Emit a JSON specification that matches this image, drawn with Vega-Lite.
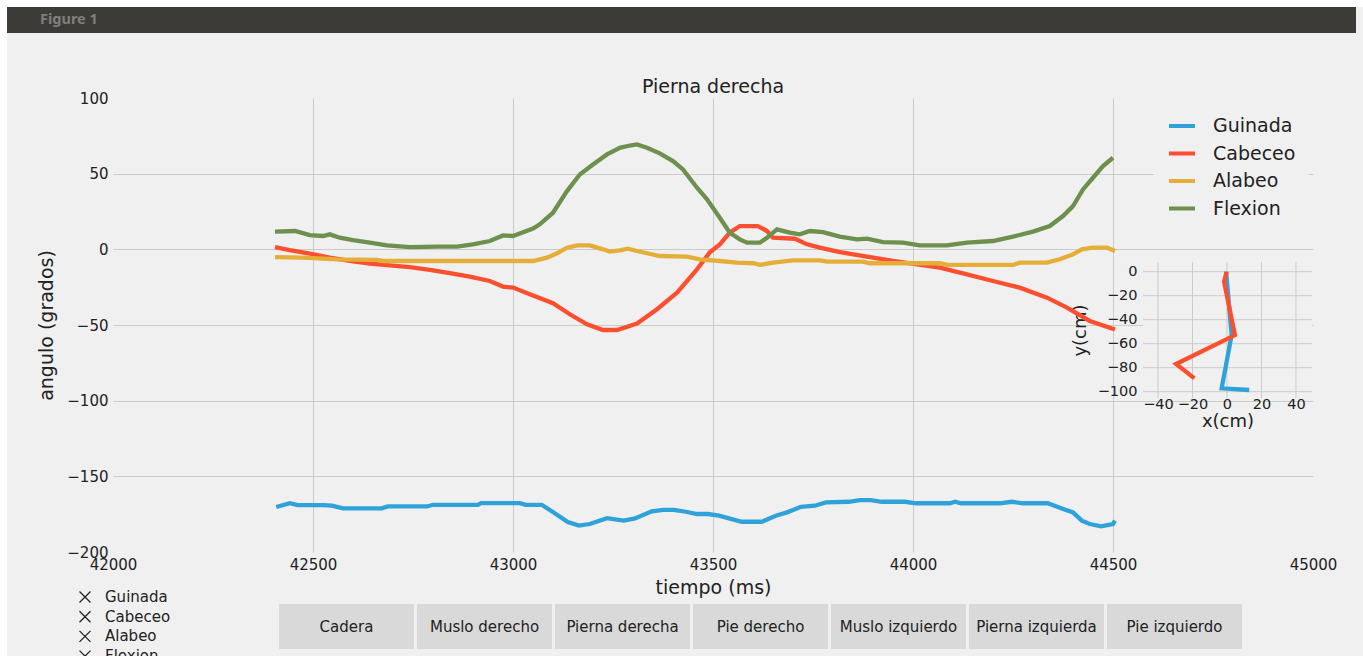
{
  "$schema": "https://vega.github.io/schema/vega-lite/v6.json",
  "width": 1200,
  "height": 454,
  "autosize": {"type": "none"},
  "padding": {"left": 113, "top": 98, "right": 50, "bottom": 104},
  "background": "#f0f0f0",
  "config": {"font": "DejaVu Sans", "view": {"stroke": null}},
  "title": {"text": "Pierna derecha", "fontSize": 19, "fontWeight": "normal", "color": "#222222", "anchor": "middle", "frame": "group", "offset": 0, "baseline": "middle", "dy": 106},
  "datasets": {
    "ventana": [{"ventana": "Figure 1"}],
    "panel": [{"panel": "inset"}],
    "inset_x": [{"tx": -40}, {"tx": -20}, {"tx": 0}, {"tx": 20}, {"tx": 40}],
    "inset_y": [{"ty": 0}, {"ty": -20}, {"ty": -40}, {"ty": -60}, {"ty": -80}, {"ty": -100}],
    "botones": [{"boton": "Cadera"}, {"boton": "Muslo derecho"}, {"boton": "Pierna derecha"}, {"boton": "Pie derecho"}, {"boton": "Muslo izquierdo"}, {"boton": "Pierna izquierda"}, {"boton": "Pie izquierdo"}],
    "marcadores": [{"marcador": "Guinada"}, {"marcador": "Cabeceo"}, {"marcador": "Alabeo"}, {"marcador": "Flexion"}],
    "pierna": [
      {"serie": "Guinada", "orden": 0, "x": -0.5, "y": 0},
      {"serie": "Guinada", "orden": 1, "x": 2.7, "y": -52.8},
      {"serie": "Guinada", "orden": 2, "x": -3.1, "y": -97.2},
      {"serie": "Guinada", "orden": 3, "x": 12.9, "y": -98.6},
      {"serie": "Cabeceo", "orden": 0, "x": -0.2, "y": 0},
      {"serie": "Cabeceo", "orden": 1, "x": -1.7, "y": -8.3},
      {"serie": "Cabeceo", "orden": 2, "x": 4.6, "y": -52.8},
      {"serie": "Cabeceo", "orden": 3, "x": -29.5, "y": -76.9},
      {"serie": "Cabeceo", "orden": 4, "x": -18.9, "y": -88.9}
    ],
    "angulos": [
      {"serie": "Guinada", "t": 42408, "v": -170.3},
      {"serie": "Guinada", "t": 42442, "v": -167.7},
      {"serie": "Guinada", "t": 42462, "v": -169.0},
      {"serie": "Guinada", "t": 42525, "v": -169.0},
      {"serie": "Guinada", "t": 42547, "v": -169.4},
      {"serie": "Guinada", "t": 42575, "v": -171.2},
      {"serie": "Guinada", "t": 42672, "v": -171.2},
      {"serie": "Guinada", "t": 42687, "v": -169.9},
      {"serie": "Guinada", "t": 42785, "v": -169.9},
      {"serie": "Guinada", "t": 42800, "v": -168.8},
      {"serie": "Guinada", "t": 42912, "v": -168.8},
      {"serie": "Guinada", "t": 42920, "v": -167.7},
      {"serie": "Guinada", "t": 43017, "v": -167.7},
      {"serie": "Guinada", "t": 43032, "v": -168.8},
      {"serie": "Guinada", "t": 43072, "v": -168.8},
      {"serie": "Guinada", "t": 43095, "v": -172.7},
      {"serie": "Guinada", "t": 43137, "v": -180.2},
      {"serie": "Guinada", "t": 43165, "v": -182.6},
      {"serie": "Guinada", "t": 43192, "v": -181.5},
      {"serie": "Guinada", "t": 43235, "v": -177.6},
      {"serie": "Guinada", "t": 43277, "v": -179.3},
      {"serie": "Guinada", "t": 43305, "v": -177.8},
      {"serie": "Guinada", "t": 43347, "v": -173.1},
      {"serie": "Guinada", "t": 43375, "v": -172.1},
      {"serie": "Guinada", "t": 43402, "v": -172.1},
      {"serie": "Guinada", "t": 43432, "v": -173.4},
      {"serie": "Guinada", "t": 43460, "v": -174.9},
      {"serie": "Guinada", "t": 43487, "v": -174.9},
      {"serie": "Guinada", "t": 43515, "v": -176.0},
      {"serie": "Guinada", "t": 43572, "v": -180.0},
      {"serie": "Guinada", "t": 43622, "v": -180.0},
      {"serie": "Guinada", "t": 43657, "v": -176.0},
      {"serie": "Guinada", "t": 43685, "v": -173.8},
      {"serie": "Guinada", "t": 43720, "v": -170.1},
      {"serie": "Guinada", "t": 43755, "v": -169.4},
      {"serie": "Guinada", "t": 43782, "v": -167.2},
      {"serie": "Guinada", "t": 43840, "v": -166.8},
      {"serie": "Guinada", "t": 43867, "v": -165.7},
      {"serie": "Guinada", "t": 43895, "v": -165.7},
      {"serie": "Guinada", "t": 43922, "v": -166.8},
      {"serie": "Guinada", "t": 43980, "v": -166.8},
      {"serie": "Guinada", "t": 44007, "v": -167.8},
      {"serie": "Guinada", "t": 44092, "v": -167.8},
      {"serie": "Guinada", "t": 44105, "v": -166.8},
      {"serie": "Guinada", "t": 44120, "v": -167.8},
      {"serie": "Guinada", "t": 44217, "v": -167.8},
      {"serie": "Guinada", "t": 44247, "v": -166.8},
      {"serie": "Guinada", "t": 44275, "v": -167.8},
      {"serie": "Guinada", "t": 44337, "v": -167.8},
      {"serie": "Guinada", "t": 44372, "v": -171.2},
      {"serie": "Guinada", "t": 44400, "v": -173.8},
      {"serie": "Guinada", "t": 44422, "v": -179.3},
      {"serie": "Guinada", "t": 44442, "v": -181.5},
      {"serie": "Guinada", "t": 44470, "v": -183.0},
      {"serie": "Guinada", "t": 44500, "v": -181.5},
      {"serie": "Guinada", "t": 44505, "v": -179.3},
      {"serie": "Cabeceo", "t": 42405, "v": 1.5},
      {"serie": "Cabeceo", "t": 42442, "v": -0.5},
      {"serie": "Cabeceo", "t": 42492, "v": -2.9},
      {"serie": "Cabeceo", "t": 42542, "v": -5.5},
      {"serie": "Cabeceo", "t": 42592, "v": -7.7},
      {"serie": "Cabeceo", "t": 42642, "v": -9.5},
      {"serie": "Cabeceo", "t": 42692, "v": -10.6},
      {"serie": "Cabeceo", "t": 42742, "v": -11.7},
      {"serie": "Cabeceo", "t": 42792, "v": -13.6},
      {"serie": "Cabeceo", "t": 42842, "v": -15.8},
      {"serie": "Cabeceo", "t": 42892, "v": -18.0},
      {"serie": "Cabeceo", "t": 42942, "v": -20.9},
      {"serie": "Cabeceo", "t": 42975, "v": -24.6},
      {"serie": "Cabeceo", "t": 43000, "v": -25.3},
      {"serie": "Cabeceo", "t": 43042, "v": -29.7},
      {"serie": "Cabeceo", "t": 43100, "v": -35.6},
      {"serie": "Cabeceo", "t": 43142, "v": -42.9},
      {"serie": "Cabeceo", "t": 43185, "v": -49.5},
      {"serie": "Cabeceo", "t": 43225, "v": -53.3},
      {"serie": "Cabeceo", "t": 43260, "v": -53.3},
      {"serie": "Cabeceo", "t": 43310, "v": -49.0},
      {"serie": "Cabeceo", "t": 43360, "v": -39.6},
      {"serie": "Cabeceo", "t": 43410, "v": -28.6},
      {"serie": "Cabeceo", "t": 43460, "v": -13.2},
      {"serie": "Cabeceo", "t": 43492, "v": -2.0},
      {"serie": "Cabeceo", "t": 43517, "v": 3.3},
      {"serie": "Cabeceo", "t": 43542, "v": 11.0},
      {"serie": "Cabeceo", "t": 43567, "v": 15.4},
      {"serie": "Cabeceo", "t": 43612, "v": 15.4},
      {"serie": "Cabeceo", "t": 43635, "v": 12.1},
      {"serie": "Cabeceo", "t": 43650, "v": 7.7},
      {"serie": "Cabeceo", "t": 43705, "v": 7.0},
      {"serie": "Cabeceo", "t": 43735, "v": 3.3},
      {"serie": "Cabeceo", "t": 43767, "v": 1.1},
      {"serie": "Cabeceo", "t": 43817, "v": -1.8},
      {"serie": "Cabeceo", "t": 43885, "v": -4.8},
      {"serie": "Cabeceo", "t": 43950, "v": -7.7},
      {"serie": "Cabeceo", "t": 44010, "v": -9.9},
      {"serie": "Cabeceo", "t": 44067, "v": -12.1},
      {"serie": "Cabeceo", "t": 44135, "v": -16.5},
      {"serie": "Cabeceo", "t": 44200, "v": -20.9},
      {"serie": "Cabeceo", "t": 44267, "v": -25.3},
      {"serie": "Cabeceo", "t": 44335, "v": -31.9},
      {"serie": "Cabeceo", "t": 44385, "v": -38.5},
      {"serie": "Cabeceo", "t": 44442, "v": -47.3},
      {"serie": "Cabeceo", "t": 44505, "v": -53.0},
      {"serie": "Alabeo", "t": 42405, "v": -5.1},
      {"serie": "Alabeo", "t": 42475, "v": -5.5},
      {"serie": "Alabeo", "t": 42560, "v": -6.6},
      {"serie": "Alabeo", "t": 42660, "v": -7.0},
      {"serie": "Alabeo", "t": 42675, "v": -7.7},
      {"serie": "Alabeo", "t": 43050, "v": -7.7},
      {"serie": "Alabeo", "t": 43085, "v": -5.5},
      {"serie": "Alabeo", "t": 43110, "v": -2.6},
      {"serie": "Alabeo", "t": 43135, "v": 1.1},
      {"serie": "Alabeo", "t": 43160, "v": 2.6},
      {"serie": "Alabeo", "t": 43192, "v": 2.6},
      {"serie": "Alabeo", "t": 43225, "v": 0.0},
      {"serie": "Alabeo", "t": 43242, "v": -1.5},
      {"serie": "Alabeo", "t": 43267, "v": -0.7},
      {"serie": "Alabeo", "t": 43287, "v": 0.4},
      {"serie": "Alabeo", "t": 43310, "v": -1.1},
      {"serie": "Alabeo", "t": 43335, "v": -2.6},
      {"serie": "Alabeo", "t": 43367, "v": -4.4},
      {"serie": "Alabeo", "t": 43435, "v": -4.8},
      {"serie": "Alabeo", "t": 43467, "v": -6.6},
      {"serie": "Alabeo", "t": 43517, "v": -7.7},
      {"serie": "Alabeo", "t": 43560, "v": -8.8},
      {"serie": "Alabeo", "t": 43600, "v": -9.2},
      {"serie": "Alabeo", "t": 43617, "v": -10.3},
      {"serie": "Alabeo", "t": 43650, "v": -8.8},
      {"serie": "Alabeo", "t": 43700, "v": -7.3},
      {"serie": "Alabeo", "t": 43767, "v": -7.3},
      {"serie": "Alabeo", "t": 43785, "v": -8.1},
      {"serie": "Alabeo", "t": 43875, "v": -8.1},
      {"serie": "Alabeo", "t": 43892, "v": -9.2},
      {"serie": "Alabeo", "t": 44067, "v": -9.2},
      {"serie": "Alabeo", "t": 44085, "v": -10.3},
      {"serie": "Alabeo", "t": 44250, "v": -10.3},
      {"serie": "Alabeo", "t": 44267, "v": -8.8},
      {"serie": "Alabeo", "t": 44335, "v": -8.8},
      {"serie": "Alabeo", "t": 44367, "v": -6.6},
      {"serie": "Alabeo", "t": 44400, "v": -3.3},
      {"serie": "Alabeo", "t": 44422, "v": 0.0},
      {"serie": "Alabeo", "t": 44450, "v": 1.1},
      {"serie": "Alabeo", "t": 44485, "v": 1.1},
      {"serie": "Alabeo", "t": 44505, "v": -1.1},
      {"serie": "Flexion", "t": 42405, "v": 11.7},
      {"serie": "Flexion", "t": 42455, "v": 12.1},
      {"serie": "Flexion", "t": 42492, "v": 9.4},
      {"serie": "Flexion", "t": 42525, "v": 8.8},
      {"serie": "Flexion", "t": 42542, "v": 9.9},
      {"serie": "Flexion", "t": 42567, "v": 7.7},
      {"serie": "Flexion", "t": 42600, "v": 6.1},
      {"serie": "Flexion", "t": 42642, "v": 4.4},
      {"serie": "Flexion", "t": 42685, "v": 2.6},
      {"serie": "Flexion", "t": 42742, "v": 1.5},
      {"serie": "Flexion", "t": 42810, "v": 1.8},
      {"serie": "Flexion", "t": 42860, "v": 1.8},
      {"serie": "Flexion", "t": 42900, "v": 3.3},
      {"serie": "Flexion", "t": 42942, "v": 5.5},
      {"serie": "Flexion", "t": 42975, "v": 9.2},
      {"serie": "Flexion", "t": 43000, "v": 8.8},
      {"serie": "Flexion", "t": 43050, "v": 13.7},
      {"serie": "Flexion", "t": 43067, "v": 16.5},
      {"serie": "Flexion", "t": 43100, "v": 24.2},
      {"serie": "Flexion", "t": 43135, "v": 38.5},
      {"serie": "Flexion", "t": 43167, "v": 49.5},
      {"serie": "Flexion", "t": 43200, "v": 56.1},
      {"serie": "Flexion", "t": 43235, "v": 62.7},
      {"serie": "Flexion", "t": 43267, "v": 67.1},
      {"serie": "Flexion", "t": 43292, "v": 68.6},
      {"serie": "Flexion", "t": 43310, "v": 69.3},
      {"serie": "Flexion", "t": 43335, "v": 67.1},
      {"serie": "Flexion", "t": 43367, "v": 63.4},
      {"serie": "Flexion", "t": 43400, "v": 58.3},
      {"serie": "Flexion", "t": 43425, "v": 52.8},
      {"serie": "Flexion", "t": 43460, "v": 40.7},
      {"serie": "Flexion", "t": 43485, "v": 33.0},
      {"serie": "Flexion", "t": 43517, "v": 20.9},
      {"serie": "Flexion", "t": 43542, "v": 11.0},
      {"serie": "Flexion", "t": 43567, "v": 6.6},
      {"serie": "Flexion", "t": 43585, "v": 4.4},
      {"serie": "Flexion", "t": 43617, "v": 4.4},
      {"serie": "Flexion", "t": 43635, "v": 7.7},
      {"serie": "Flexion", "t": 43660, "v": 13.2},
      {"serie": "Flexion", "t": 43692, "v": 11.0},
      {"serie": "Flexion", "t": 43717, "v": 9.9},
      {"serie": "Flexion", "t": 43742, "v": 12.1},
      {"serie": "Flexion", "t": 43775, "v": 11.4},
      {"serie": "Flexion", "t": 43817, "v": 8.4},
      {"serie": "Flexion", "t": 43860, "v": 6.6},
      {"serie": "Flexion", "t": 43885, "v": 7.1},
      {"serie": "Flexion", "t": 43925, "v": 4.8},
      {"serie": "Flexion", "t": 43975, "v": 4.4},
      {"serie": "Flexion", "t": 44017, "v": 2.6},
      {"serie": "Flexion", "t": 44085, "v": 2.6},
      {"serie": "Flexion", "t": 44135, "v": 4.4},
      {"serie": "Flexion", "t": 44200, "v": 5.5},
      {"serie": "Flexion", "t": 44250, "v": 8.4},
      {"serie": "Flexion", "t": 44300, "v": 11.7},
      {"serie": "Flexion", "t": 44342, "v": 15.4},
      {"serie": "Flexion", "t": 44375, "v": 22.0},
      {"serie": "Flexion", "t": 44400, "v": 28.6},
      {"serie": "Flexion", "t": 44425, "v": 39.6},
      {"serie": "Flexion", "t": 44450, "v": 47.3},
      {"serie": "Flexion", "t": 44475, "v": 55.0},
      {"serie": "Flexion", "t": 44500, "v": 60.5}
    ]
  },
  "resolve": {"scale": {"x": "independent", "y": "independent"}, "axis": {"x": "independent", "y": "independent"}},
  "layer": [
    {
      "data": {"name": "ventana"},
      "mark": {"type": "rect", "color": "#ffffff"},
      "encoding": {
        "x": {"field": "ventana", "type": "nominal", "scale": {"type": "band", "domain": ["Figure 1"], "range": [-113, 1250], "paddingInner": 0, "paddingOuter": 0}, "axis": null},
        "y": {"field": "ventana", "type": "nominal", "scale": {"type": "band", "domain": ["Figure 1"], "range": [-98, -91], "paddingInner": 0, "paddingOuter": 0}, "axis": null}
      }
    },
    {
      "data": {"name": "ventana"},
      "mark": {"type": "rect", "color": "#ffffff"},
      "encoding": {
        "x": {"field": "ventana", "type": "nominal", "scale": {"type": "band", "domain": ["Figure 1"], "range": [-113, -106], "paddingInner": 0, "paddingOuter": 0}, "axis": null},
        "y": {"field": "ventana", "type": "nominal", "scale": {"type": "band", "domain": ["Figure 1"], "range": [-98, 558], "paddingInner": 0, "paddingOuter": 0}, "axis": null}
      }
    },
    {
      "data": {"name": "ventana"},
      "mark": {"type": "rect", "color": "#3c3b37"},
      "encoding": {
        "x": {"field": "ventana", "type": "nominal", "scale": {"type": "band", "domain": ["Figure 1"], "range": [-106, 1243], "paddingInner": 0, "paddingOuter": 0}, "axis": null},
        "y": {"field": "ventana", "type": "nominal", "scale": {"type": "band", "domain": ["Figure 1"], "range": [-91, -65], "paddingInner": 0, "paddingOuter": 0}, "axis": null}
      }
    },
    {
      "data": {"name": "ventana"},
      "mark": {"type": "text", "align": "left", "baseline": "middle", "dx": 33, "fontSize": 14.5, "fontWeight": "bold", "font": "Noto Sans", "color": "#7f7f7a"},
      "encoding": {
        "x": {"field": "ventana", "type": "nominal", "bandPosition": 0, "scale": {"type": "band", "domain": ["Figure 1"], "range": [-106, 1243], "paddingInner": 0, "paddingOuter": 0}, "axis": null},
        "y": {"field": "ventana", "type": "nominal", "scale": {"type": "band", "domain": ["Figure 1"], "range": [-91, -65], "paddingInner": 0, "paddingOuter": 0}, "axis": null},
        "text": {"field": "ventana"}
      }
    },
    {
      "data": {"name": "angulos"},
      "mark": {"type": "line", "strokeWidth": 4.3},
      "encoding": {
        "x": {"field": "t", "type": "quantitative", "scale": {"domain": [42000, 45000], "nice": false, "zero": false},
          "axis": {"title": "tiempo (ms)", "values": [42000, 42500, 43000, 43500, 44000, 44500, 45000], "format": "d", "labelFlush": false, "grid": true, "gridColor": "#cbcbcb", "gridOpacity": {"condition": {"test": "datum.value === 42000 || datum.value === 45000", "value": 0}, "value": 1}, "domain": false, "ticks": false, "labelPadding": 5, "labelFontSize": 15, "labelColor": "#222222", "titleFontSize": 19, "titleFontWeight": "normal", "titleColor": "#222222", "titlePadding": 6}},
        "y": {"field": "v", "type": "quantitative", "scale": {"domain": [-200, 100], "nice": false, "zero": false},
          "axis": {"title": "angulo (grados)", "values": [-200, -150, -100, -50, 0, 50, 100], "grid": true, "gridColor": "#cbcbcb", "gridOpacity": {"condition": {"test": "datum.value === -200 || datum.value === 100", "value": 0}, "value": 1}, "domain": false, "ticks": false, "labelPadding": 5, "labelFontSize": 15, "labelColor": "#222222", "titleFontSize": 19, "titleFontWeight": "normal", "titleColor": "#222222", "titlePadding": 10}},
        "color": {"field": "serie", "type": "nominal",
          "scale": {"domain": ["Guinada", "Cabeceo", "Alabeo", "Flexion"], "range": ["#30a2da", "#fc4f30", "#e5ae38", "#6d904f"]},
          "legend": {"orient": "none", "legendX": 1041, "legendY": 0, "title": null, "symbolType": "stroke", "symbolSize": 676, "symbolStrokeWidth": 4, "labelFontSize": 19, "labelColor": "#222222", "labelOffset": 16, "rowPadding": 2.5, "padding": 13, "fillColor": "#f0f0f0"}}
      }
    },
    {
      "data": {"name": "panel"},
      "mark": {"type": "rect", "color": "#f0f0f0"},
      "encoding": {
        "x": {"datum": -48.7, "type": "quantitative", "scale": {"domain": [-48.7, 49.3], "range": [1030, 1199], "nice": false, "zero": false}, "axis": null},
        "x2": {"datum": 49.3},
        "y": {"datum": -105.25, "type": "quantitative", "scale": {"domain": [-105.25, 8.1], "range": [300, 164], "nice": false, "zero": false}, "axis": null},
        "y2": {"datum": 8.1}
      }
    },
    {
      "data": {"name": "inset_x"},
      "mark": {"type": "rule", "color": "#cbcbcb", "strokeWidth": 1},
      "encoding": {
        "x": {"field": "tx", "type": "quantitative", "scale": {"domain": [-48.7, 49.3], "range": [1030, 1199], "nice": false, "zero": false}, "axis": null},
        "y": {"datum": -105.25, "type": "quantitative", "scale": {"domain": [-105.25, 8.1], "range": [300, 164], "nice": false, "zero": false}, "axis": null},
        "y2": {"datum": 8.1}
      }
    },
    {
      "data": {"name": "inset_y"},
      "mark": {"type": "rule", "color": "#cbcbcb", "strokeWidth": 1},
      "encoding": {
        "y": {"field": "ty", "type": "quantitative", "scale": {"domain": [-105.25, 8.1], "range": [300, 164], "nice": false, "zero": false}, "axis": null},
        "x": {"datum": -48.7, "type": "quantitative", "scale": {"domain": [-48.7, 49.3], "range": [1030, 1199], "nice": false, "zero": false}, "axis": null},
        "x2": {"datum": 49.3}
      }
    },
    {
      "data": {"name": "pierna"},
      "mark": {"type": "line", "strokeWidth": 4.3},
      "encoding": {
        "x": {"field": "x", "type": "quantitative", "scale": {"domain": [-48.7, 49.3], "range": [1030, 1199], "nice": false, "zero": false},
          "axis": {"orient": "bottom", "offset": -154, "title": "x(cm)", "values": [-40, -20, 0, 20, 40], "grid": false, "domain": false, "ticks": false, "labelFlush": false, "labelPadding": -1, "labelFontSize": 14.5, "labelColor": "#222222", "titleFontSize": 18, "titleFontWeight": "normal", "titleColor": "#222222", "titlePadding": 2}},
        "y": {"field": "y", "type": "quantitative", "scale": {"domain": [-105.25, 8.1], "range": [300, 164], "nice": false, "zero": false},
          "axis": {"orient": "left", "offset": -1030, "title": "y(cm)", "values": [0, -20, -40, -60, -80, -100], "grid": false, "domain": false, "ticks": false, "labelPadding": 6, "labelFontSize": 14.5, "labelColor": "#222222", "titleFontSize": 18, "titleFontWeight": "normal", "titleColor": "#222222", "titlePadding": 8}},
        "color": {"field": "serie", "type": "nominal"},
        "order": {"field": "orden", "type": "quantitative"}
      }
    },
    {
      "data": {"name": "botones"},
      "mark": {"type": "rect", "color": "#d9d9d9"},
      "encoding": {
        "x": {"field": "boton", "type": "nominal", "sort": null, "scale": {"type": "band", "domain": ["Cadera", "Muslo derecho", "Pierna derecha", "Pie derecho", "Muslo izquierdo", "Pierna izquierda", "Pie izquierdo"], "range": [166, 1129], "paddingInner": 0.0217, "paddingOuter": 0}, "axis": null},
        "y": {"datum": "botones", "type": "nominal", "scale": {"type": "band", "domain": ["botones"], "range": [506, 551], "paddingInner": 0, "paddingOuter": 0}, "axis": null}
      }
    },
    {
      "data": {"name": "botones"},
      "mark": {"type": "text", "fontSize": 15, "color": "#222222", "align": "center", "baseline": "middle"},
      "encoding": {
        "x": {"field": "boton", "type": "nominal", "sort": null, "scale": {"type": "band", "domain": ["Cadera", "Muslo derecho", "Pierna derecha", "Pie derecho", "Muslo izquierdo", "Pierna izquierda", "Pie izquierdo"], "range": [166, 1129], "paddingInner": 0.0217, "paddingOuter": 0}, "axis": null},
        "y": {"datum": "botones", "type": "nominal", "scale": {"type": "band", "domain": ["botones"], "range": [506, 551], "paddingInner": 0, "paddingOuter": 0}, "axis": null},
        "text": {"field": "boton"}
      }
    },
    {
      "data": {"name": "marcadores"},
      "mark": {"type": "point", "filled": false, "color": "#222222", "opacity": 0},
      "encoding": {
        "shape": {"field": "marcador", "type": "nominal", "sort": null,
          "scale": {"range": ["M-1,-1L1,1M1,-1L-1,1", "M-1,-1L1,1M1,-1L-1,1", "M-1,-1L1,1M1,-1L-1,1", "M-1,-1L1,1M1,-1L-1,1"]},
          "legend": {"orient": "none", "legendX": -35.5, "legendY": 491.5, "title": null, "symbolSize": 121, "symbolStrokeColor": "#222222", "symbolFillColor": "transparent", "symbolStrokeWidth": 1.3, "symbolOpacity": 1, "labelFontSize": 15, "labelColor": "#222222", "labelOffset": 12.5, "rowPadding": 2.7, "padding": 0}}
      }
    }
  ]
}
